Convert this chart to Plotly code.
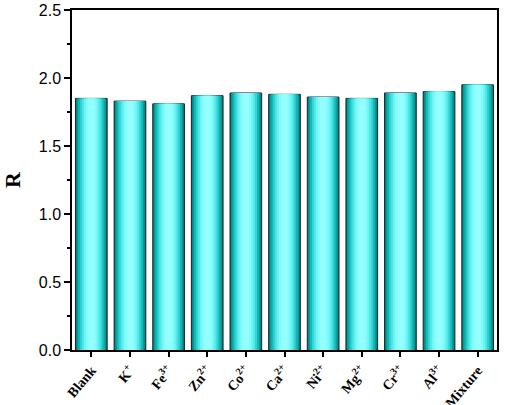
import plotly.graph_objects as go

categories = ["Blank", "K<sup>+</sup>", "Fe<sup>3+</sup>", "Zn<sup>2+</sup>", "Co<sup>2+</sup>",
              "Ca<sup>2+</sup>", "Ni<sup>2+</sup>", "Mg<sup>2+</sup>", "Cr<sup>3+</sup>",
              "Al<sup>3+</sup>", "Mixture"]
values = [1.85, 1.83, 1.81, 1.87, 1.89, 1.88, 1.86, 1.85, 1.89, 1.90, 1.95]

fig = go.Figure()

# outer bar with outline
fig.add_trace(go.Bar(x=categories, y=values, width=0.82,
                     marker=dict(color="#007a7a", line=dict(color="#222222", width=1)),
                     hoverinfo="skip", showlegend=False))

# layered inner bars to mimic the cylindrical gradient
layers = [
    (0.76, "#009c9c"),
    (0.68, "#14b8b8"),
    (0.58, "#34d2d2"),
    (0.48, "#52e6e6"),
    (0.38, "#6cf4f4"),
    (0.28, "#82fcfc"),
    (0.16, "#95ffff"),
]
for w, c in layers:
    fig.add_trace(go.Bar(x=categories, y=values, width=w,
                         marker=dict(color=c, line=dict(width=0)),
                         hoverinfo="skip", showlegend=False))

fig.update_layout(
    width=505, height=405,
    barmode="overlay",
    plot_bgcolor="white", paper_bgcolor="white",
    margin=dict(l=72, r=8, t=10, b=55),
    showlegend=False,
)
fig.update_xaxes(
    automargin=False,
    showline=True, linecolor="black", linewidth=1.5, mirror=True,
    ticks="outside", ticklen=5, tickwidth=1.5, tickcolor="black",
    tickangle=-50,
    tickfont=dict(family="Liberation Serif, Times New Roman, serif", size=14, color="black", weight="bold"),
    showgrid=False,
)
fig.update_yaxes(
    automargin=False,
    range=[0, 2.5], dtick=0.5, tickformat=".1f",
    showline=True, linecolor="black", linewidth=1.5, mirror=True,
    ticks="outside", ticklen=6, tickwidth=1.5, tickcolor="black",
    minor=dict(dtick=0.25, ticks="outside", ticklen=3, tickwidth=1.5, tickcolor="black"),
    tickfont=dict(family="Liberation Sans, Arial, sans-serif", size=16, color="black"),
    title=dict(text="R", font=dict(family="Liberation Serif, Times New Roman, serif", size=22, color="black", weight="bold"), standoff=12),
    showgrid=False, zeroline=False,
)

fig.write_html("out.html", config={"displayModeBar": False},
               post_script="document.body.style.margin='0';document.body.style.overflow='hidden';")
